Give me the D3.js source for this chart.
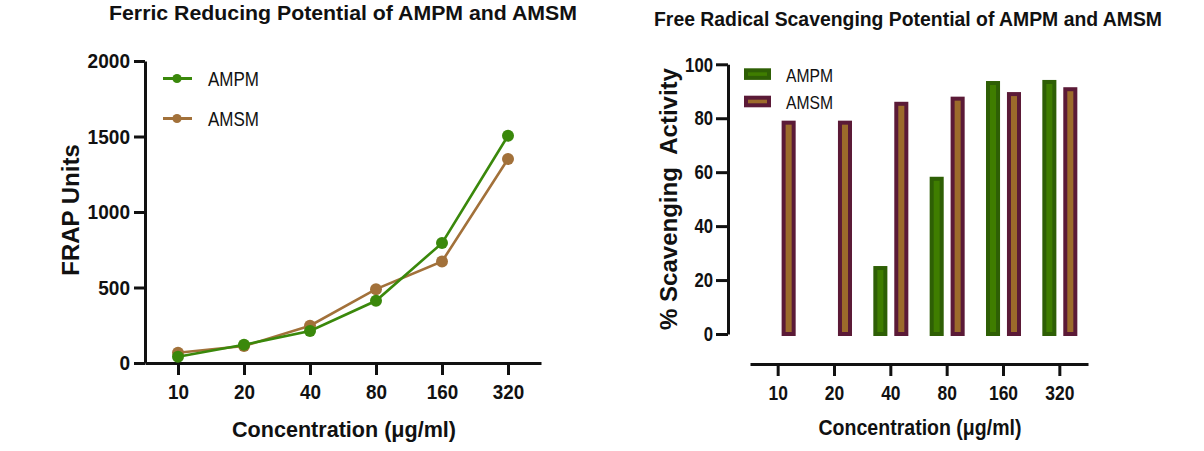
<!DOCTYPE html>
<html>
<head>
<meta charset="utf-8">
<script src="https://cdn.jsdelivr.net/npm/d3@7/dist/d3.min.js"></script>
<style>
  html, body { margin: 0; padding: 0; background: #fff; }
  svg { display: block; }
  text { font-family: "Liberation Sans", Arial, Helvetica, sans-serif; fill: #111; }
</style>
</head>
<body>
<svg id="chart" width="1204" height="451"></svg>
<script>
// ---- data ----
const categories = ["10", "20", "40", "80", "160", "320"];
const seriesNames = ["AMPM", "AMSM"];
const frapAMPM = [42, 121, 212, 412, 794, 1505];
const frapAMSM = [68, 112, 247, 489, 672, 1351];
const scavAMPM = [0, 0, 25.2, 58.3, 93.8, 94.2];
const scavAMSM = [79.1, 79.1, 86.1, 88.0, 89.7, 91.5];
const frapTicks = [0, 500, 1000, 1500, 2000];
const scavTicks = [0, 20, 40, 60, 80, 100];
const titleLeft = "Ferric Reducing Potential of AMPM and AMSM";
const titleRight = "Free Radical Scavenging Potential of AMPM and AMSM";
const xLabel = "Concentration (\u03bcg/ml)";
const yLabelLeft = "FRAP Units";
const yLabelRight = "% Scavenging  Activity";

// ---- styles ----
const lineColors = { AMPM: "#3a880b", AMSM: "#a2713a" };
const barStroke = { AMPM: "#2e5f05", AMSM: "#5b1a37" };
const barFill = { AMPM: "#3f7d00", AMSM: "#9c6b2b" };
const axisColor = "#111";

const svg = d3.select("#chart");

function styleAxis(g, fontSize, weight, perChar) {
  g.select(".domain").attr("stroke", axisColor).attr("stroke-width", 3);
  g.selectAll(".tick line").attr("stroke", axisColor).attr("stroke-width", 3);
  g.selectAll(".tick text")
    .attr("fill", "#111")
    .style("font-family", '"Liberation Sans", Arial, sans-serif')
    .style("font-size", fontSize + "px")
    .style("font-weight", weight)
    .each(function () {
      const t = d3.select(this);
      t.attr("textLength", t.text().length * perChar).attr("lengthAdjust", "spacingAndGlyphs");
    });
}

// ================= LEFT: line chart =================
const xL = d3.scalePoint().domain(categories).range([145, 541]).padding(0.5);
const yL = d3.scaleLinear().domain([0, 2000]).range([363, 61]);

const gLY = svg.append("g").attr("transform", "translate(145,0)")
  .call(d3.axisLeft(yL).tickValues(frapTicks).tickSize(11).tickSizeOuter(0).tickPadding(4).tickFormat(d3.format("d")));
styleAxis(gLY, 21, "bold", 10.6);

const gLX = svg.append("g").attr("transform", "translate(0,363)")
  .call(d3.axisBottom(xL).tickSize(12).tickSizeOuter(0).tickPadding(9));
styleAxis(gLX, 21, "bold", 10.5);

const leftSeries = [
  { name: "AMSM", values: frapAMSM },
  { name: "AMPM", values: frapAMPM }
];
const line = d3.line().x((d, i) => xL(categories[i])).y(d => yL(d));
leftSeries.forEach(s => {
  svg.append("path").datum(s.values)
    .attr("d", line).attr("fill", "none")
    .attr("stroke", lineColors[s.name]).attr("stroke-width", 2.6);
  svg.append("g").selectAll("circle").data(s.values).join("circle")
    .attr("cx", (d, i) => xL(categories[i])).attr("cy", d => yL(d))
    .attr("r", 6).attr("fill", lineColors[s.name]);
});

// left legend
seriesNames.forEach((name, i) => {
  const y = 78.5 + i * 40;
  svg.append("line").attr("x1", 163).attr("x2", 192).attr("y1", y).attr("y2", y)
    .attr("stroke", lineColors[name]).attr("stroke-width", 3);
  svg.append("circle").attr("cx", 177).attr("cy", y).attr("r", 4.6).attr("fill", lineColors[name]);
  svg.append("text").attr("x", 208).attr("y", y + 7.5)
    .attr("textLength", 51).attr("lengthAdjust", "spacingAndGlyphs")
    .style("font-size", "21px").text(name);
});

// left titles
svg.append("text").attr("x", 109).attr("y", 20)
  .attr("textLength", 468).attr("lengthAdjust", "spacingAndGlyphs")
  .style("font-size", "20px").style("font-weight", "bold").text(titleLeft);
svg.append("text").attr("x", 344).attr("y", 437).attr("text-anchor", "middle")
  .attr("textLength", 224).attr("lengthAdjust", "spacingAndGlyphs")
  .style("font-size", "22px").style("font-weight", "bold").text(xLabel);
svg.append("text").attr("transform", "translate(78.5,210) rotate(-90)").attr("text-anchor", "middle")
  .style("font-size", "24px").style("font-weight", "bold").text(yLabelLeft);

// ================= RIGHT: grouped bars =================
const xR0 = d3.scaleBand().domain(categories).range([750, 1088]);
const groupW = 35;
const xR1 = d3.scaleBand().domain(seriesNames).range([0, groupW]).paddingInner(0.33);
const yR = d3.scaleLinear().domain([0, 100]).range([334, 64.3]);

const gRY = svg.append("g").attr("transform", "translate(728,0)")
  .call(d3.axisLeft(yR).tickValues(scavTicks).tickSize(12).tickSizeOuter(0).tickPadding(3));
styleAxis(gRY, 21, "bold", 9.3);

const gRX = svg.append("g").attr("transform", "translate(0,364)")
  .call(d3.axisBottom(xR0).tickSize(12).tickSizeOuter(0).tickPadding(9));
styleAxis(gRX, 21, "bold", 9.7);

const barData = [];
categories.forEach((c, i) => {
  barData.push({ cat: c, name: "AMPM", v: scavAMPM[i] });
  barData.push({ cat: c, name: "AMSM", v: scavAMSM[i] });
});
const sw = 4;
svg.append("g").selectAll("rect").data(barData.filter(d => d.v > 0)).join("rect")
  .attr("x", d => xR0(d.cat) + xR0.bandwidth() / 2 - groupW / 2 + xR1(d.name) + sw / 2)
  .attr("width", xR1.bandwidth() - sw)
  .attr("y", d => yR(d.v) + sw / 2)
  .attr("height", d => yR(0) - yR(d.v) - sw / 2)
  .attr("fill", d => barFill[d.name])
  .attr("stroke", d => barStroke[d.name])
  .attr("stroke-width", sw);

// right legend
seriesNames.forEach((name, i) => {
  const y = 68.3 + i * 27.4;
  svg.append("rect").attr("x", 744 + 2).attr("y", y + 2).attr("width", 27 - 4).attr("height", 11.6 - 4)
    .attr("fill", barFill[name]).attr("stroke", barStroke[name]).attr("stroke-width", 4);
  svg.append("text").attr("x", 786).attr("y", y + 13.4)
    .attr("textLength", 47).attr("lengthAdjust", "spacingAndGlyphs")
    .style("font-size", "19px").text(name);
});

// right titles
svg.append("text").attr("x", 654).attr("y", 26)
  .attr("textLength", 508).attr("lengthAdjust", "spacingAndGlyphs")
  .style("font-size", "20.5px").style("font-weight", "bold").text(titleRight);
svg.append("text").attr("x", 920).attr("y", 435).attr("text-anchor", "middle")
  .attr("textLength", 203).attr("lengthAdjust", "spacingAndGlyphs")
  .style("font-size", "22px").style("font-weight", "bold").text(xLabel);
svg.append("text").attr("transform", "translate(676.5,199) rotate(-90)").attr("text-anchor", "middle")
  .style("font-size", "24px").style("font-weight", "bold").style("white-space", "pre").text(yLabelRight);
</script>
</body>
</html>
